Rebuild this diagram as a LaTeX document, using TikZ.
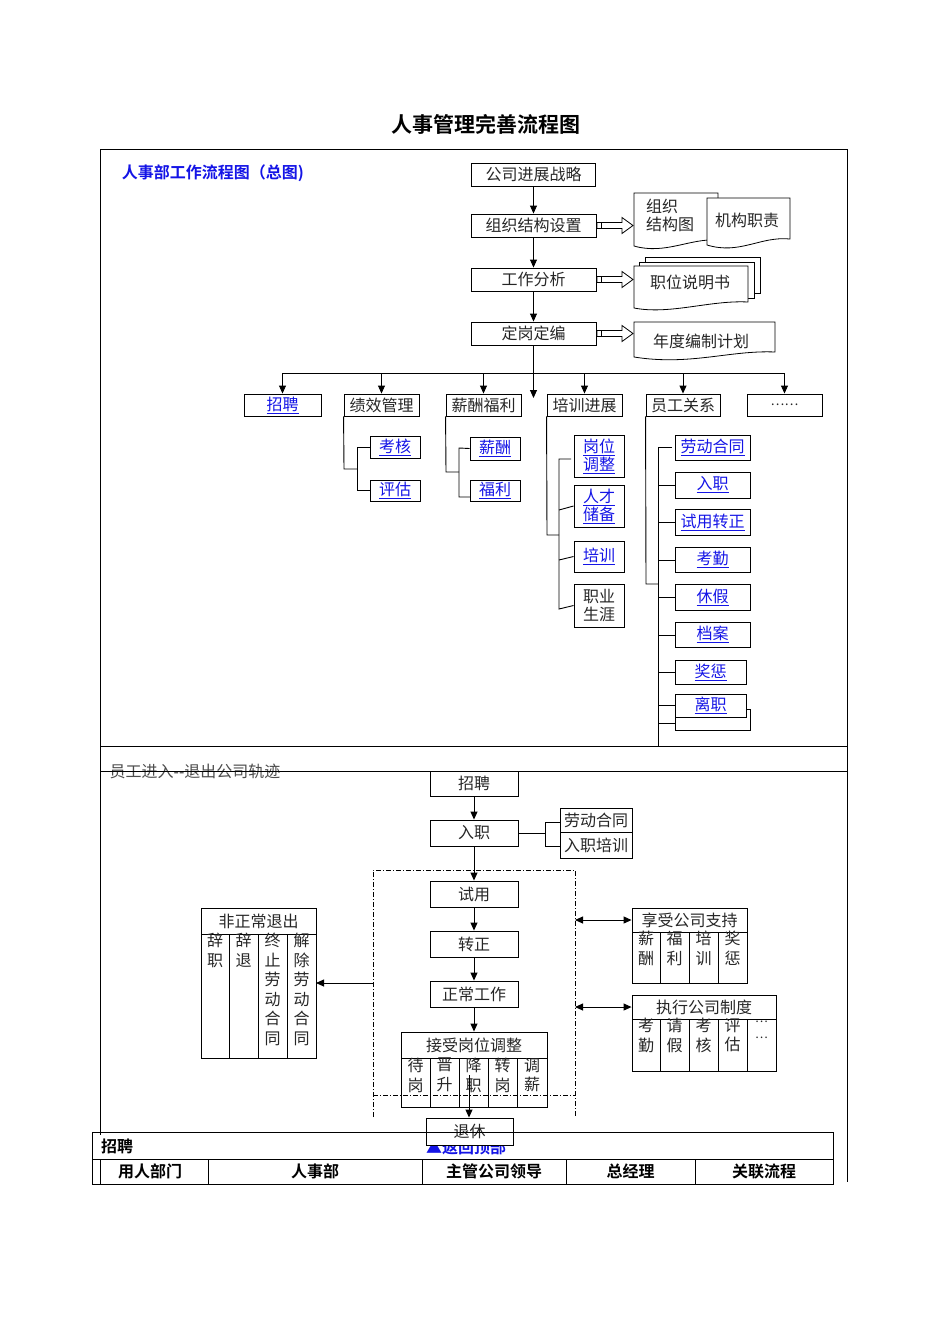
\documentclass[tikz,border=0pt]{standalone}
\usepackage{fontspec}
\setmainfont{Noto Sans CJK SC}
\newfontfamily\hei{Noto Sans CJK SC Bold}
\newfontfamily\lat{Liberation Sans}
\usetikzlibrary{arrows.meta}
\definecolor{lnk}{RGB}{20,20,230}
\newcommand{\lk}[1]{\textcolor{lnk}{\underline{#1}}}
\begin{document}
\begin{tikzpicture}[x=1pt,y=-1pt,
  every node/.style={font=\fontsize{16}{18}\selectfont, text=black!85},
  box/.style={draw, line width=0.9pt, inner sep=0pt, align=center},
  ln/.style={line width=0.9pt},
  arr/.style={line width=0.9pt,-{Triangle[length=8pt,width=7pt]}},
  darr/.style={line width=0.9pt,{Triangle[length=8pt,width=7pt]}-{Triangle[length=8pt,width=7pt]}},
  vt/.style={anchor=north, align=center, inner sep=0pt, font=\fontsize{16}{19.5}\selectfont},
  hd/.style={font=\hei\fontsize{16}{18}\selectfont,text=black},
  dd/.style={line width=0.8pt, dash pattern=on 5pt off 2pt on 1pt off 2pt}]
\useasboundingbox (0,0) rectangle (950,1344);
% title
\node[font=\hei\fontsize{21}{24}\selectfont, text=black] (title) at (486,124) {人事管理完善流程图};
% frames
\draw[line width=0.9pt] (100,149) -- (847,149) -- (847,1182);
\draw[line width=0.9pt] (100,149) -- (100,1135);
\draw[line width=0.9pt] (100,746) -- (847,746);
\node[font=\hei\fontsize{16}{18}\selectfont, text=lnk] (head) at (213,173) {人事部工作流程图（总图)};
% main chain
\node[box,minimum width=124pt,minimum height=23pt] (s1) at (533.5,174.5) {公司进展战略};
\node[box,minimum width=125pt,minimum height=23pt] (s2) at (533.5,225.5) {组织结构设置};
\node[box,minimum width=125pt,minimum height=23pt] (s3) at (533.5,279.5) {工作分析};
\node[box,minimum width=125pt,minimum height=23pt] (s4) at (533.5,333.5) {定岗定编};
\draw[arr] (s1) -- (s2);
\draw[arr] (s2) -- (s3);
\draw[arr] (s3) -- (s4);
% hollow arrows
\foreach \yy in {225.5,279.5,333.5}{
 \draw[line width=0.8pt,fill=white] (597,\yy-3)--(622,\yy-3)--(622,\yy-8)--(633,\yy)--(622,\yy+8)--(622,\yy+3)--(597,\yy+3)--cycle;
 \draw[line width=0.8pt] (601,\yy-3)--(601,\yy+3);}
% documents
\draw[line width=0.8pt,fill=white] (634,193)--(718,193)--(718,240) .. controls (690,238) and (665,255) .. (634,246)--cycle;
\node[align=left,anchor=north west,inner sep=0pt] (d1) at (646,199) {组织\\结构图};
\draw[line width=0.8pt,fill=white] (707,198)--(790,198)--(790,239) .. controls (760,236) and (740,255) .. (707,245)--cycle;
\node (d2) at (747,220) {机构职责};
\draw[line width=0.8pt,fill=white] (645,257)--(760,257)--(760,293)--(645,293)--cycle;
\draw[line width=0.8pt,fill=white] (639,262)--(754,262)--(754,298)--(639,298)--cycle;
\draw[line width=0.8pt,fill=white] (634,266)--(748,266)--(748,302) .. controls (710,300) and (670,315) .. (634,308)--cycle;
\node (d3) at (690,282) {职位说明书};
\draw[line width=0.8pt,fill=white] (634,322)--(775,322)--(775,352) .. controls (730,350) and (690,366) .. (634,357)--cycle;
\node (d4) at (701,341) {年度编制计划};
% branch
\node[box,minimum width=77pt,minimum height=22pt] (b1) at (282.5,405) {\lk{招聘}};
\node[box,minimum width=75pt,minimum height=22pt] (b2) at (381.5,405) {绩效管理};
\node[box,minimum width=75pt,minimum height=22pt] (b3) at (483.5,405) {薪酬福利};
\node[box,minimum width=75pt,minimum height=22pt] (b4) at (584.5,405) {培训进展};
\node[box,minimum width=74pt,minimum height=22pt] (b5) at (683,405) {员工关系};
\node[box,minimum width=75pt,minimum height=22pt] (b6) at (784.5,405) {\fontsize{13}{15}\selectfont……};
\coordinate (bl) at (282.5,373);
\coordinate (br) at (784.5,373);
\draw[ln] (bl) -- (br);
\foreach \n in {b1,b2,b3,b4,b5,b6}{\draw[arr] (\n.north |- bl) -- (\n.north);}
\coordinate (ce) at (533.5,398);
\draw[arr] (s4) -- (ce);
% performance
\node[box,minimum width=50pt,minimum height=22pt] (k1) at (395,447) {\lk{考核}};
\node[box,minimum width=50pt,minimum height=21pt] (k2) at (395,490.5) {\lk{评估}};
\draw[ln] (b2.south west) -- (344,469) -- (357,469);
\draw[ln] (k1.west) -- (357,447) -- (357,490.5) -- (k2.west);
\node[box,minimum width=50pt,minimum height=23pt] (x1) at (495,448.5) {\lk{薪酬}};
\node[box,minimum width=50pt,minimum height=21pt] (x2) at (495,490.5) {\lk{福利}};
\draw[ln] (b3.south west) -- (446,472) -- (459,472);
\draw[ln] (x1.west) -- (459,448) -- (459,497) -- (470,497);
% training
\node[box,minimum width=50pt,minimum height=42pt] (p1) at (599,456) {\lk{岗位}\\\lk{调整}};
\node[box,minimum width=50pt,minimum height=42pt] (p2) at (599,506) {\lk{人才}\\\lk{储备}};
\node[box,minimum width=50pt,minimum height=31pt] (p3) at (599,556.5) {\lk{培训}};
\node[box,minimum width=50pt,minimum height=43pt] (p4) at (599,605.5) {职业\\生涯};
\draw[ln] (b4.south west) -- (547,535) -- (559,535);
\draw[ln] (571,459) -- (559,459) -- (559,609) -- (p4.west);
\draw[ln] (559,510) -- (p2.west);
\draw[ln] (559,560) -- (p3.west);
% employee relations
\node[box,minimum width=75pt,minimum height=25pt] (e1) at (712.5,447.5) {\lk{劳动合同}};
\node[box,minimum width=75pt,minimum height=26pt] (e2) at (712.5,485) {\lk{入职}};
\node[box,minimum width=75pt,minimum height=26pt] (e3) at (712.5,522) {\lk{试用转正}};
\node[box,minimum width=75pt,minimum height=25pt] (e4) at (712.5,559.5) {\lk{考勤}};
\node[box,minimum width=75pt,minimum height=26pt] (e5) at (712.5,597) {\lk{休假}};
\node[box,minimum width=75pt,minimum height=25pt] (e6) at (712.5,634.5) {\lk{档案}};
\node[box,minimum width=71pt,minimum height=24pt] (e7) at (710.5,672) {\lk{奖惩}};
\node[box,minimum width=75pt,minimum height=21pt] (e9) at (712.5,719.5) {};
\node[box,minimum width=71pt,minimum height=23pt,fill=white] (e8) at (710.5,705.5) {\lk{离职}};
\draw[ln] (b5.south west) -- (646,584) -- (658,584);
\draw[ln] (672,447) -- (658,447) -- (658,747);
\foreach \n/\yy in {e2/485,e3/522,e4/560,e5/597,e6/635,e7/672,e8/705,e9/723}{\draw[ln] (658,\yy) -- (\n.west |- 0,\yy);}
% ===== bottom =====
\node[text=black!70] (track) at (195,771) {员工进入{\lat -{}-}退出公司轨迹};
\draw[line width=0.9pt] (100,771) -- (847,771);
\node[box,minimum width=88pt,minimum height=25pt,fill=white] (t1) at (474,783.5) {招聘};
\node[box,minimum width=88pt,minimum height=26pt] (t2) at (474,833) {入职};
\node[box,minimum width=72pt,minimum height=24pt] (t3) at (596,820) {劳动合同};
\node[box,minimum width=72pt,minimum height=26pt] (t4) at (596,845) {入职培训};
\draw[arr] (t1) -- (t2);
\draw[ln] (t2.east) -- (545,833);
\draw[ln] (560,822) -- (545,822) -- (545,846) -- (560,846);
\draw[dd] (373,1117) -- (373,870) -- (575,870) -- (575,1117);
\draw[dd] (373,1095) -- (575,1095);
\node[box,minimum width=88pt,minimum height=26pt] (t5) at (474,894) {试用};
\node[box,minimum width=88pt,minimum height=26pt] (t6) at (474,944) {转正};
\node[box,minimum width=88pt,minimum height=26pt] (t7) at (474,994) {正常工作};
\node[box,minimum width=146pt,minimum height=26pt] (t8) at (474,1045) {接受岗位调整};
\draw[arr] (t2) -- (t5);
\draw[arr] (t5) -- (t6);
\draw[arr] (t6) -- (t7);
\draw[arr] (t7) -- (t8);
\draw[line width=0.9pt] (401,1058) rectangle (547,1107);
\foreach \xx in {430,459,488,517}{\draw[line width=0.9pt] (\xx,1058) -- (\xx,1107);}
\foreach \xx/\tt in {415.5/待\\岗,444.5/晋\\升,473.5/降\\职,502.5/转\\岗,532/调\\薪}{\node[vt] at (\xx,1058) {\tt};}
\node[font=\hei\fontsize{16}{18}\selectfont, text=lnk] (back) at (466,1147) {▲返回顶部};
\node[box,minimum width=87pt,minimum height=27pt,fill=white] (t9) at (469.5,1131.5) {退休};
\coordinate (rt) at (469,1075);
\draw[arr] (rt) -- (t9.north -| rt);
% abnormal exit
\node[box,minimum width=115pt,minimum height=26pt] (f0) at (258.5,921) {非正常退出};
\draw[line width=0.9pt] (201,934) rectangle (316,1058);
\foreach \xx in {229,258,287}{\draw[line width=0.9pt] (\xx,934) -- (\xx,1058);}
\foreach \xx/\tt in {215/辞\\职,243.5/辞\\退,272.5/终\\止\\劳\\动\\合\\同,301.5/解\\除\\劳\\动\\合\\同}{\node[vt] at (\xx,933) {\tt};}
\coordinate (fa) at (373,983);
\coordinate (fb) at (316,983);
\draw[arr] (fa) -- (fb);
% support
\node[box,minimum width=115pt,minimum height=24pt] (g0) at (689.5,920) {享受公司支持};
\draw[line width=0.9pt] (632,932) rectangle (747,983);
\foreach \xx in {660,689,718}{\draw[line width=0.9pt] (\xx,932) -- (\xx,983);}
\foreach \xx/\tt in {646/薪\\酬,674.5/福\\利,703.5/培\\训,732.5/奖\\惩}{\node[vt] at (\xx,931) {\tt};}
\node[box,minimum width=144pt,minimum height=24pt] (h0) at (704,1007) {执行公司制度};
\draw[line width=0.9pt] (632,1019) rectangle (776,1071);
\foreach \xx in {660,689,718,747}{\draw[line width=0.9pt] (\xx,1019) -- (\xx,1071);}
\foreach \xx/\tt in {646/考\\勤,674.5/请\\假,703.5/考\\核,732.5/评\\估}{\node[vt] at (\xx,1018) {\tt};}
\node[vt,font=\fontsize{12}{16}\selectfont] at (761.5,1021) {⋯\\⋯};
\coordinate (ga) at (575,920);
\coordinate (ha) at (575,1007);
\draw[darr] (ga) -- (g0.west);
\draw[darr] (ha) -- (h0.west);
% table
\draw[line width=0.8pt] (92,1132) rectangle (833,1184);
\draw[line width=0.8pt] (92,1159) -- (833,1159);
\draw[line width=0.8pt] (100,1159) -- (100,1184);
\foreach \xx in {208,422,566,695}{\draw[line width=0.8pt] (\xx,1159) -- (\xx,1184);}
\node[hd] (zp) at (117,1146) {招聘};
\foreach \xx/\tt in {150/用人部门,315/人事部,494/主管公司领导,630.5/总经理,764/关联流程}{\node[hd] at (\xx,1171) {\tt};}
\end{tikzpicture}
\end{document}
